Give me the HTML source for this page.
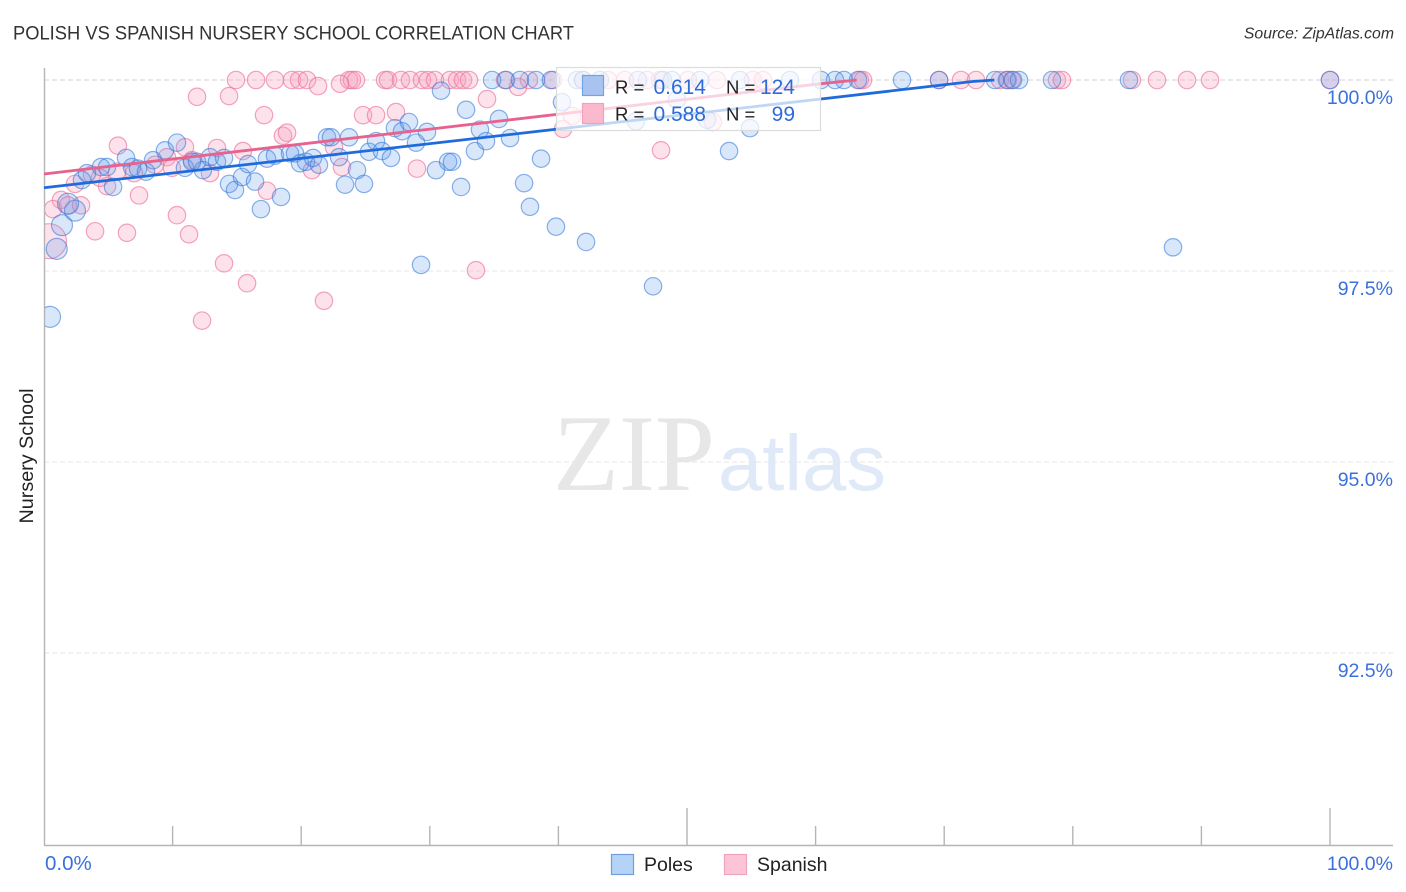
<!DOCTYPE html>
<html lang="en">
<head>
<meta charset="utf-8">
<title>Polish vs Spanish Nursery School Correlation Chart</title>
<style>
html,body{margin:0;padding:0;background:#fff;}
svg{display:block;font-family:"Liberation Sans",sans-serif;}
</style>
</head>
<body>
<svg id="chart" xmlns="http://www.w3.org/2000/svg" width="1406" height="892" viewBox="0 0 1406 892">
  <defs><clipPath id="plot-clip"><rect x="45" y="60" width="1349" height="785"/></clipPath></defs>
  <rect x="0" y="0" width="1406" height="892" fill="#fff"/>
  <text x="13" y="39.5" font-size="19.5" fill="#333" textLength="561" lengthAdjust="spacingAndGlyphs">POLISH VS SPANISH NURSERY SCHOOL CORRELATION CHART</text>
  <text x="1394" y="38.5" font-size="15.8" font-style="italic" fill="#333" text-anchor="end">Source: ZipAtlas.com</text>
  <text transform="translate(33,456) rotate(-90)" font-size="19.5" fill="#222" text-anchor="middle" textLength="135" lengthAdjust="spacingAndGlyphs">Nursery School</text>
  <g id="grid"></g>
  <g>
    <text x="553" y="490" font-family="'Liberation Serif',serif" font-size="109" fill="#e7e7e7" textLength="162" lengthAdjust="spacingAndGlyphs">ZIP</text>
    <text x="718" y="490" font-size="79" fill="#dfe9f8" textLength="168" lengthAdjust="spacingAndGlyphs">atlas</text>
  </g>
  <g id="axes"></g>
  <g id="spanish-points" clip-path="url(#plot-clip)"></g>
  <g id="poles-points" clip-path="url(#plot-clip)"></g>
  <g id="trends"></g>
  <g>
    <rect x="556.5" y="67.5" width="264" height="63" fill="#fff" fill-opacity="0.72" stroke="#dcdcdc" stroke-width="1.2"/>
    <rect x="582.5" y="75.5" width="21" height="20" fill="#a9c3f0" stroke="#6fa3e6" stroke-width="1.2"/>
    <rect x="582.5" y="103.5" width="21" height="20" fill="#fbb9cd" stroke="#f3a0bb" stroke-width="1.2"/>
    <text x="615" y="93.5" font-size="18.5" fill="#222">R =</text>
    <text x="706" y="94" font-size="21" fill="#2f6bd8" text-anchor="end">0.614</text>
    <text x="726" y="93.5" font-size="18.5" fill="#222">N =</text>
    <text x="795" y="94" font-size="21" fill="#2f6bd8" text-anchor="end">124</text>
    <text x="615" y="120.5" font-size="18.5" fill="#222">R =</text>
    <text x="706" y="121" font-size="21" fill="#2f6bd8" text-anchor="end">0.588</text>
    <text x="726" y="120.5" font-size="18.5" fill="#222">N =</text>
    <text x="795" y="121" font-size="21" fill="#2f6bd8" text-anchor="end">99</text>
  </g>
  <g>
    <rect x="611.5" y="854.5" width="22" height="20" fill="#b5d3f7" stroke="#6f9fdc" stroke-width="1.2"/>
    <text x="644" y="871" font-size="19.5" fill="#222">Poles</text>
    <rect x="724.5" y="854.5" width="22" height="20" fill="#fcc4d6" stroke="#f0a3bc" stroke-width="1.2"/>
    <text x="757" y="871" font-size="19.5" fill="#222">Spanish</text>
  </g>
</svg>
<script>
const yTickValues = [100, 97.5, 95, 92.5];
const yTickLabels = ["100.0%", "97.5%", "95.0%", "92.5%"];
const xTickValues = [0, 10, 20, 30, 40, 50, 60, 70, 80, 90, 100];
const xEndLabels = ["0.0%", "100.0%"];

const polesX = [0.47,0.99,1.40,2.41,1.87,2.95,3.34,4.43,4.90,5.37,6.38,6.84,7.31,7.93,8.48,9.41,10.34,10.96,11.51,11.90,12.36,12.91,13.45,14.00,14.39,14.85,15.40,15.86,16.41,16.87,17.34,17.96,18.43,19.13,19.52,19.91,20.37,20.92,21.38,22.01,22.32,22.94,23.41,23.72,24.34,24.88,25.27,25.82,26.28,26.98,27.29,27.84,28.38,28.93,29.78,30.48,30.87,31.42,31.73,32.43,32.82,33.51,33.90,34.37,35.38,36.24,37.33,37.79,38.65,39.81,40.28,42.15,29.32,47.36,46.03,49.22,51.56,54.90,53.27,87.79,34.84,35.93,37.01,38.26,39.42,41.45,41.91,43.23,46.19,48.13,48.83,51.01,54.12,58.01,60.42,61.51,62.21,63.30,66.72,69.60,73.95,74.88,75.35,75.82,78.38,84.37,100];
const polesY = [96.90,97.79,98.10,98.29,98.38,98.69,98.78,98.86,98.86,98.60,98.98,98.86,98.84,98.80,98.95,99.08,99.18,98.85,98.93,98.93,98.82,98.99,98.93,98.98,98.64,98.56,98.73,98.90,98.67,98.31,98.97,99.01,98.47,99.04,99.04,98.91,98.93,98.98,98.89,99.25,99.25,98.99,98.63,99.25,98.82,98.64,99.06,99.20,99.07,98.98,99.37,99.33,99.45,99.18,99.32,98.82,99.86,98.93,98.93,98.60,99.61,99.07,99.35,99.20,99.49,99.24,98.65,98.34,98.97,98.08,99.71,97.88,97.58,97.30,99.46,99.74,99.48,99.37,99.07,97.81,100,100,100,100,100,100,100,100,100,100,100,100,100,100,100,100,100,100,100,100,100,100,100,100,100,100,100];

const spanishX = [14.93,16.49,17.96,19.28,19.83,20.45,23.72,23.95,24.26,26.52,26.75,27.76,28.46,29.39,29.86,30.40,31.57,32.12,32.58,33.05,35.85,37.71,39.58,41.91,43.86,45.18,46.89,47.90,50.08,52.33,55.13,55.91,63.45,63.69,69.60,71.31,72.47,74.34,74.96,75.27,78.77,79.16,84.60,86.55,88.88,90.67,100,21.31,23.02,11.90,14.39,17.11,18.58,18.90,10.96,5.75,13.45,15.47,22.55,23.17,20.84,17.34,12.91,11.51,9.56,8.63,9.95,7.00,5.68,4.90,4.35,3.73,2.41,1.32,0.70,1.87,2.88,7.39,10.34,3.97,6.45,11.28,0.39,14.00,15.79,21.77,12.29,24.81,25.82,27.37,29.00,34.45,36.86,33.59,40.36,41.06,47.98,52.02];
const spanishY = [100,100,100,100,100,100,100,100,100,100,100,100,100,100,100,100,100,100,100,100,100,100,100,100,100,100,100,100,100,100,100,100,100,100,100,100,100,100,100,100,100,100,100,100,100,100,100,99.92,99.95,99.78,99.79,99.54,99.27,99.31,99.12,99.14,99.11,99.07,99.12,98.86,98.82,98.55,98.78,98.95,98.99,98.89,98.85,98.78,98.80,98.61,98.72,98.76,98.64,98.43,98.31,98.36,98.36,98.49,98.23,98.02,98.00,97.98,97.89,97.60,97.34,97.11,96.85,99.54,99.54,99.58,98.84,99.75,99.91,97.51,99.36,99.53,99.08,99.45];

const polesTrendX = [0, 60.34, 72.2, 73.9];
const polesTrendY = [98.59, 99.75, 99.98, 100];
const spanishTrendX = [0, 60.34, 63.2];
const spanishTrendY = [98.77, 99.95, 100];

const NS = "http://www.w3.org/2000/svg";
function xScale(v) { return 44 + v * 12.86; }
function yScale(v) { return 80 + (100 - v) * 76.4; }

const grid = document.getElementById("grid");
yTickValues.forEach(function (v, i) {
  const line = document.createElementNS(NS, "line");
  
  
  line.setAttribute("x1", 44);
  line.setAttribute("x2", 1393);
  line.setAttribute("y1", yScale(v));
  line.setAttribute("y2", yScale(v));
  line.setAttribute("stroke", i === 0 ? "#d4d4d4" : "#e6e6e6");
  line.setAttribute("stroke-width", 1);
  line.setAttribute("stroke-dasharray", "5 3");
  grid.appendChild(line);
  const label = document.createElementNS(NS, "text");
  
  
  label.setAttribute("x", 1393);
  label.setAttribute("y", yScale(v) + 24);
  label.setAttribute("font-size", 19.5);
  label.setAttribute("fill", "#3b70dc");
  label.setAttribute("text-anchor", "end");
  label.textContent = yTickLabels[i];
  grid.appendChild(label);
});

const axes = document.getElementById("axes");
function axisLine(x1, y1, x2, y2, name) {
  const l = document.createElementNS(NS, "line");
  
  
  l.setAttribute("x1", x1);
  l.setAttribute("y1", y1);
  l.setAttribute("x2", x2);
  l.setAttribute("y2", y2);
  l.setAttribute("stroke", "#b5b5b5");
  l.setAttribute("stroke-width", 1.4);
  axes.appendChild(l);
}
axisLine(44.5, 68, 44.5, 845.5, "y-axis-line");
axisLine(44, 845.5, 1393, 845.5, "x-axis-line");
xTickValues.forEach(function (v) {
  if (v === 0) return;
  const long = v === 50 || v === 100;
  axisLine(xScale(v), long ? 808 : 826, xScale(v), 845, "x-tick");
});
[0, 100].forEach(function (v, i) {
  const t = document.createElementNS(NS, "text");
  
  
  t.setAttribute("x", i === 0 ? 45 : 1393);
  t.setAttribute("y", 870);
  t.setAttribute("font-size", i === 0 ? 20.5 : 19.5);
  t.setAttribute("fill", "#3b70dc");
  t.setAttribute("text-anchor", i === 0 ? "start" : "end");
  t.textContent = xEndLabels[i];
  axes.appendChild(t);
});

function drawPoints(targetId, xs, ys, fill, stroke, bigBelow, bigR, markName) {
  const g = document.getElementById(targetId);
  xs.forEach(function (x, i) {
    const c = document.createElementNS(NS, "circle");
    
    
    c.setAttribute("cx", xScale(x));
    c.setAttribute("cy", yScale(ys[i]));
    c.setAttribute("r", x < bigBelow ? bigR : 8.7);
    c.setAttribute("fill", fill);
    c.setAttribute("stroke", stroke);
    c.setAttribute("stroke-width", 1.2);
    g.appendChild(c);
  });
}
drawPoints("spanish-points", spanishX, spanishY, "rgba(248,160,190,0.3)", "rgba(236,110,150,0.62)", 0.5, 17.5, "spanish-point");
drawPoints("poles-points", polesX, polesY, "rgba(95,155,235,0.24)", "rgba(45,115,215,0.55)", 2.5, 10.5, "poles-point");

function drawTrend(xs, ys, color, name) {
  const p = document.createElementNS(NS, "polyline");
  
  
  p.setAttribute("points", xs.map(function (x, i) { return xScale(x) + "," + yScale(ys[i]); }).join(" "));
  p.setAttribute("fill", "none");
  p.setAttribute("stroke", color);
  p.setAttribute("stroke-width", 2.8);
  document.getElementById("trends").appendChild(p);
}
drawTrend(spanishTrendX, spanishTrendY, "#e8628e", "spanish-trend-line");
drawTrend(polesTrendX, polesTrendY, "#1f6bdc", "poles-trend-line");
</script>
</body>
</html>
